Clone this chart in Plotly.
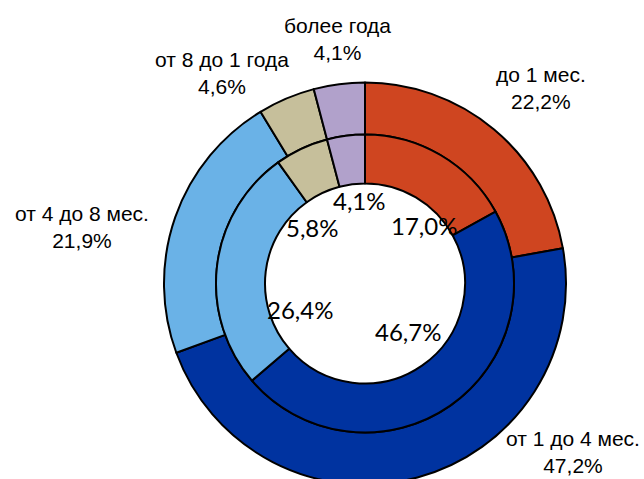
import plotly.graph_objects as go

categories = ["до 1 мес.", "от 1 до 4 мес.", "от 4 до 8 мес.", "от 8 до 1 года", "более года"]
outer_values = [22.2, 47.2, 21.9, 4.6, 4.1]
inner_values = [17.0, 46.7, 26.4, 5.8, 4.1]
colors = ["#CF4520", "#0033A0", "#6AB2E7", "#C6BF9B", "#B1A1CB"]

W, H = 644, 500
CX, CY = 365, 283.5
R_OUT, R_MID, R_HOLE = 201, 149, 100

# label anchor positions (pixels)
outer_label_pos = [(541, 88), (573, 452), (82, 227), (222, 73), (337.5, 39)]
inner_label_pos = [(423.5, 226), (407.5, 331), (299.5, 309), (312, 228), (360, 200)]


def fmt(v):
    return f"{v:.1f}".replace(".", ",") + "%"


def dom(r):
    return dict(x=[(CX - r) / W, (CX + r) / W],
                y=[(H - (CY + r)) / H, (H - (CY - r)) / H])


fig = go.Figure()
fig.add_trace(go.Pie(
    labels=categories, values=outer_values, hole=R_MID / R_OUT,
    domain=dom(R_OUT), sort=False, direction="clockwise", rotation=0,
    marker=dict(colors=colors, line=dict(color="black", width=2)),
    textinfo="none", hoverinfo="label+value", showlegend=False,
))
fig.add_trace(go.Pie(
    labels=categories, values=inner_values, hole=R_HOLE / R_MID,
    domain=dom(R_MID), sort=False, direction="clockwise", rotation=0,
    marker=dict(colors=colors, line=dict(color="black", width=2)),
    textinfo="none", hoverinfo="label+value", showlegend=False,
))

annotations = []
for cat, v, (px, py) in zip(categories, outer_values, outer_label_pos):
    annotations.append(dict(
        x=px / W, y=1 - py / H, xref="paper", yref="paper",
        text=f"{cat}<br>{fmt(v)}", showarrow=False,
        xanchor="center", yanchor="middle",
        font=dict(family="Liberation Sans, Arial", size=21, color="black"),
    ))
for v, (px, py) in zip(inner_values, inner_label_pos):
    annotations.append(dict(
        x=px / W, y=1 - py / H, xref="paper", yref="paper",
        text=fmt(v), showarrow=False,
        xanchor="center", yanchor="middle",
        font=dict(family="Lato, Open Sans", size=24, color="black"),
    ))

fig.update_layout(
    width=W, height=H,
    margin=dict(l=0, r=0, t=0, b=0),
    paper_bgcolor="white", plot_bgcolor="white",
    annotations=annotations,
)

fig.write_html(
    "out.html",
    config={"displayModeBar": False},
    post_script="document.body.style.margin='0';document.body.style.overflow='hidden';document.documentElement.style.overflow='hidden';",
)
